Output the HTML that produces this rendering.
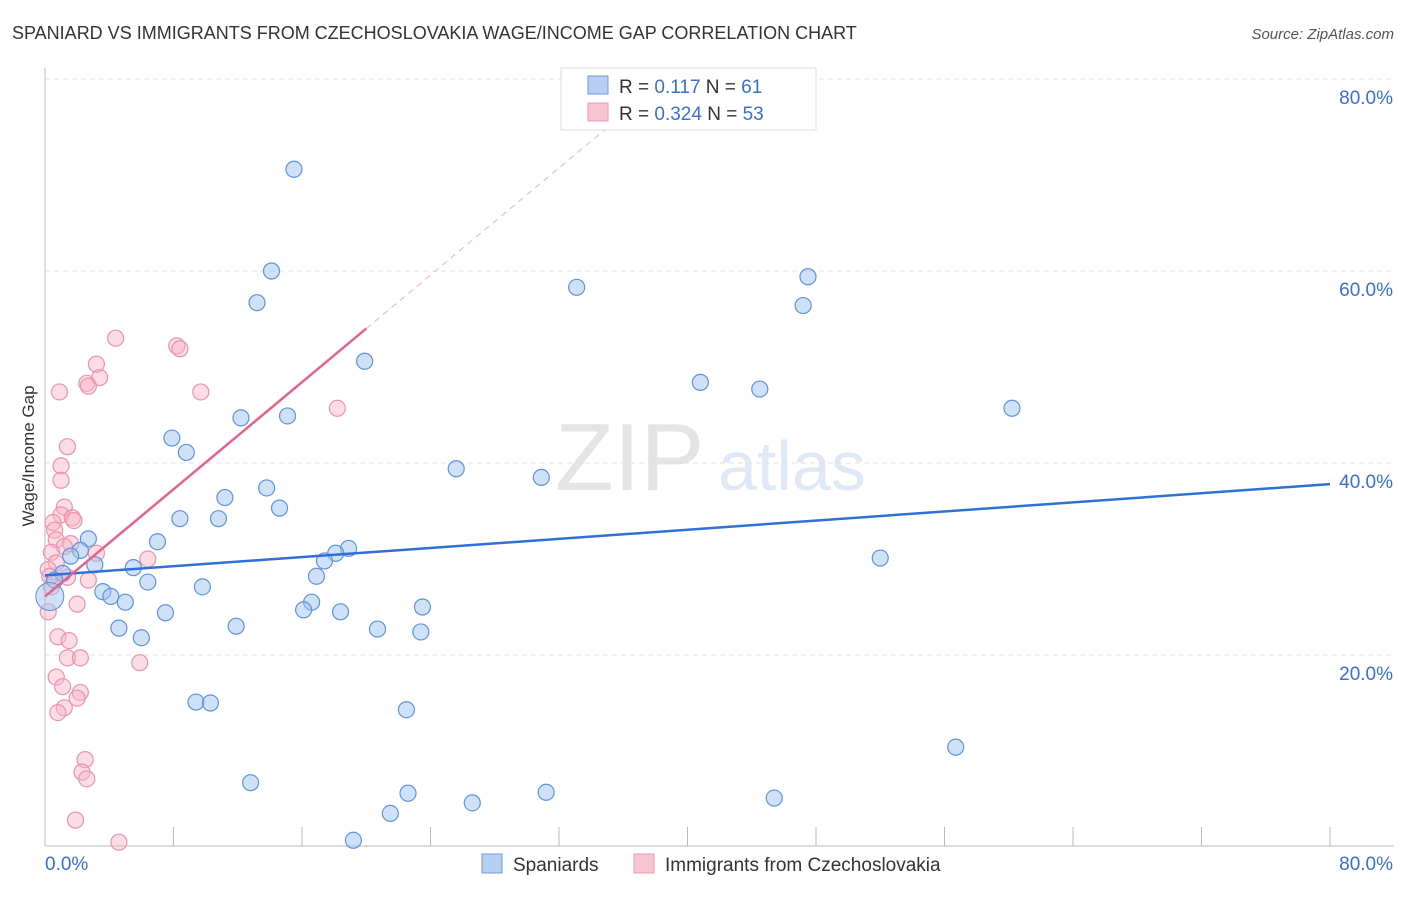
<!DOCTYPE html>
<html><head><meta charset="utf-8"><style>
body{margin:0;background:#fff;font-family:"Liberation Sans",sans-serif;}
svg text{font-family:"Liberation Sans",sans-serif;}
</style></head><body>
<svg id="chart" width="1406" height="892" viewBox="0 0 1406 892" xmlns="http://www.w3.org/2000/svg">
<text x="12" y="39" font-size="18" fill="#333">SPANIARD VS IMMIGRANTS FROM CZECHOSLOVAKIA WAGE/INCOME GAP CORRELATION CHART</text>
<text x="1394" y="39" font-size="15" fill="#555" text-anchor="end" font-style="italic">Source: ZipAtlas.com</text>
<text x="555" y="490" font-size="96" fill="#e4e4e4" font-family="Liberation Serif">ZIP</text>
<text x="718" y="490" font-size="70" fill="#dfe8f5">atlas</text>
<g id="grid"></g>
<g id="axes"></g>
<g id="pts"></g>
<g id="lines"></g>
<text transform="translate(34,456) rotate(-90)" font-size="17" fill="#333" text-anchor="middle">Wage/Income Gap</text>
<g>
<rect x="561" y="68" width="255" height="62" fill="#fff" stroke="#ddd"/>
<rect x="588" y="76" width="20" height="18" fill="#b7d0f2" stroke="#6d9ae0"/>
<rect x="588" y="103" width="20" height="18" fill="#f9c4d2" stroke="#ec98b0"/>
<text x="619" y="93" font-size="19" fill="#333">R = <tspan fill="#3a6fd1"> 0.117</tspan>   N = <tspan fill="#3a6fd1"> 61</tspan></text>
<text x="619" y="120" font-size="19" fill="#333">R = <tspan fill="#3a6fd1">0.324</tspan>   N = <tspan fill="#3a6fd1">53</tspan></text>
</g>
<g>
<rect x="482" y="854" width="20" height="19" fill="#b7d0f2" stroke="#6d9ae0"/>
<text x="513" y="871" font-size="19" fill="#333">Spaniards</text>
<rect x="634" y="854" width="20" height="19" fill="#f9c4d2" stroke="#ec98b0"/>
<text x="665" y="871" font-size="19" fill="#333">Immigrants from Czechoslovakia</text>
</g>
</svg>
<script>
const blueX=[15.5,14.1,13.2,33.1,47.5,47.2,19.9,40.8,44.5,60.2,12.2,15.1,7.9,8.8,25.6,30.9,13.8,11.2,14.6,8.4,10.8,2.7,7.0,2.2,1.6,18.9,18.1,17.4,52.0,3.1,5.5,16.9,1.1,6.4,0.6,9.8,3.6,4.1,5.0,16.6,23.5,7.5,16.1,18.4,11.9,4.6,20.7,23.4,6.0,9.4,10.3,22.5,56.7,12.8,22.6,31.2,45.4,26.6,21.5,19.2];
const blueY=[70.6,60.0,56.7,58.3,59.4,56.4,50.6,48.4,47.7,45.7,44.7,44.9,42.6,41.1,39.4,38.5,37.4,36.4,35.3,34.2,34.2,32.1,31.8,30.9,30.3,31.1,30.6,29.8,30.1,29.4,29.1,28.2,28.5,27.6,27.8,27.1,26.6,26.1,25.5,25.5,25.0,24.4,24.7,24.5,23.0,22.8,22.7,22.4,21.8,15.1,15.0,14.3,10.4,6.7,5.6,5.7,5.1,4.6,3.5,0.7];
const pinkX=[4.4,8.2,8.4,3.2,2.6,3.4,2.7,0.9,9.7,18.2,1.4,1.0,1.0,1.2,1.0,1.7,1.8,0.5,0.6,0.7,1.6,1.2,3.2,0.4,6.4,0.7,0.2,0.3,1.4,2.7,0.4,2.0,0.2,0.8,1.5,1.4,2.2,5.9,0.7,1.1,2.2,2.0,1.2,0.8,2.5,2.3,2.6,1.9,4.6];
const pinkY=[53.0,52.2,51.9,50.3,48.3,48.9,48.0,47.4,47.4,45.7,41.7,39.7,38.2,35.4,34.6,34.3,34.0,33.8,33.0,32.0,31.6,31.3,30.6,30.7,30.0,29.6,28.9,28.2,28.1,27.8,27.1,25.3,24.5,21.9,21.5,19.7,19.7,19.2,17.7,16.7,16.1,15.5,14.5,14.0,9.1,7.8,7.1,2.8,0.5];
const yTicks=[20,40,60,80];
const xTicks=[0,8,16,24,32,40,48,56,64,72,80];
const blueLine=[[0,28.3],[80,37.8]];
const pinkLine=[[0,26.1],[20,54.0]];
const pinkDash=[[20,54.0],[35.2,75.2]];
const sx=v=>45+v*1285/80, sy=v=>847-v*9.6;
const NS="http://www.w3.org/2000/svg";
function mk(p,t,a){const e=document.createElementNS(NS,t);for(const k in a)e.setAttribute(k,a[k]);document.getElementById(p).appendChild(e);return e;}
yTicks.forEach(v=>{
 const g=mk('grid','line',{x1:45,x2:1394,y1:sy(v),y2:sy(v),stroke:'#e2e2e2','stroke-dasharray':'5,4'});
 
 
 const t=mk('grid','text',{x:1393,y:sy(v)+25,'font-size':19,fill:'#3a6fd1','text-anchor':'end'});
 t.textContent=v.toFixed(1)+'%';
 
 
});
const ax=mk('axes','line',{x1:45,x2:1394,y1:846,y2:846,stroke:'#bbb'});


const ay=mk('axes','line',{x1:45,x2:45,y1:68,y2:846,stroke:'#bbb'});


xTicks.forEach(v=>{
 const l=mk('axes','line',{x1:sx(v),x2:sx(v),y1:827,y2:846,stroke:'#bbb'});
 
 
});
[[0,'start'],[80,'end']].forEach(([v,a])=>{
 const t=mk('axes','text',{x:v==0?45:1393,y:870,'font-size':19,fill:'#3a6fd1','text-anchor':a});
 t.textContent=v.toFixed(1)+'%';
 
 
});
pinkX.forEach((x,i)=>{
 const c=mk('pts','circle',{cx:sx(x),cy:sy(pinkY[i]),r:8,fill:'rgba(248,180,200,0.45)',stroke:'#eb93ad','stroke-width':1.2});
 
 
});
blueX.forEach((x,i)=>{
 const c=mk('pts','circle',{cx:sx(x),cy:sy(blueY[i]),r:8,fill:'rgba(160,196,240,0.5)',stroke:'#5f93dc','stroke-width':1.2});
 
 
});
const big=mk('pts','circle',{cx:sx(0.3),cy:sy(26.1),r:14,fill:'rgba(160,196,240,0.5)',stroke:'#5f93dc'});


const bl=mk('lines','line',{x1:sx(blueLine[0][0]),y1:sy(blueLine[0][1]),x2:sx(blueLine[1][0]),y2:sy(blueLine[1][1]),stroke:'#2f6fd6','stroke-width':2.5});


const pl=mk('lines','line',{x1:sx(pinkLine[0][0]),y1:sy(pinkLine[0][1]),x2:sx(pinkLine[1][0]),y2:sy(pinkLine[1][1]),stroke:'#e8628e','stroke-width':2.5});


const pd=mk('lines','line',{x1:sx(pinkDash[0][0]),y1:sy(pinkDash[0][1]),x2:sx(pinkDash[1][0]),y2:sy(pinkDash[1][1]),stroke:'#f0b0c4','stroke-width':1,'stroke-dasharray':'6,5'});


</script>
</body></html>
